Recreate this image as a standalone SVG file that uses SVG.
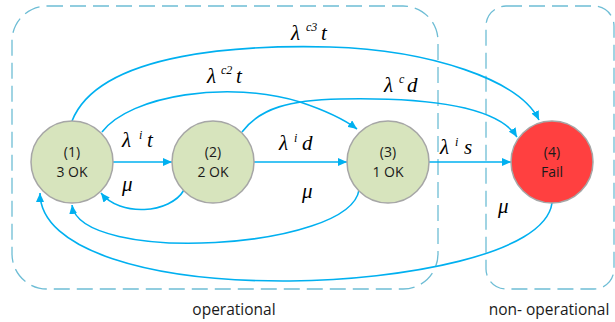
<svg xmlns="http://www.w3.org/2000/svg" width="615" height="322" viewBox="0 0 615 322">
<defs>
<marker id="arr" markerUnits="userSpaceOnUse" markerWidth="10" markerHeight="8" refX="9" refY="4" orient="auto">
<path d="M0,0 L9,4 L0,8 Z" fill="#00B0F0"/>
</marker>
<style>
.box{fill:none;stroke:#6EBDD5;stroke-width:1.3;stroke-dasharray:16 7}
.node{fill:#D7E4BD;stroke:#A6A6A6;stroke-width:1.5}
.fail{fill:#FF4040;stroke:#A6A6A6;stroke-width:1.5}
.nt{font-family:"Open Sans","Noto Sans",sans-serif;font-size:14px;fill:#1a1a1a;text-anchor:middle}
.edge{fill:none;stroke:#00B0F0;stroke-width:1.6;marker-end:url(#arr)}
.m{font-family:"Liberation Serif","Times New Roman",serif;font-style:italic;font-size:21px;fill:#000}
.s{font-family:"Liberation Serif","Times New Roman",serif;font-style:italic;font-size:12px;fill:#000}
.cap{font-family:"Open Sans","Noto Sans",sans-serif;font-size:15.5px;fill:#1a1a1a;text-anchor:middle}
</style>
</defs>
<rect width="615" height="322" fill="#fff"/>
<g id="regions">
<rect class="box" x="12" y="6" width="426" height="283" rx="35" ry="35"/>
<rect class="box" x="486" y="6" width="128" height="283" rx="20" ry="20"/>
<text class="cap" x="234" y="315">operational</text>
<text class="cap" x="549" y="315">non- operational</text>
</g>
<g id="connectors">
<path class="edge" d="M113,162 L172,162"/>
<path class="edge" d="M254,162 L347,162"/>
<path class="edge" d="M429,162 L511,162"/>
<path class="edge" d="M184,190 C170,214 120,217 101,193"/>
<path class="edge" d="M359,190 C350,250 80,265 72,205"/>
<path class="edge" d="M552,203 C545,255 400,280 290,281 C150,282 40,250 40,193"/>
<path class="edge" d="M72,121 C100,50 250,45 330,47 C430,50 520,80 539,120"/>
<path class="edge" d="M102,132 C130,95 230,80 300,102 C330,112 345,120 357,129"/>
<path class="edge" d="M242,132 C260,108 290,100 340,99 C440,97 500,110 517,137"/>
</g>
<g id="labels">
<text class="m" x="122" y="147">λ</text><text class="s" x="139" y="139">i</text><text class="m" x="147" y="147">t</text>
<text class="m" x="279" y="150">λ</text><text class="s" x="294" y="142">i</text><text class="m" x="302" y="150">d</text>
<text class="m" x="440" y="154">λ</text><text class="s" x="455" y="146">i</text><text class="m" x="464" y="154">s</text>
<text class="m" x="291" y="40">λ</text><text class="s" x="306" y="31">c3</text><text class="m" x="321" y="40">t</text>
<text class="m" x="207" y="83">λ</text><text class="s" x="221" y="74">c2</text><text class="m" x="236" y="83">t</text>
<text class="m" x="384" y="92">λ</text><text class="s" x="399" y="83">c</text><text class="m" x="407" y="92">d</text>
<text class="m" x="122" y="191">μ</text>
<text class="m" x="302" y="198">μ</text>
<text class="m" x="498" y="213">μ</text>
</g>
<g id="n1"><circle class="node" cx="72" cy="162" r="41"/><text class="nt" x="72" y="157">(1)</text><text class="nt" x="72" y="177">3 OK</text></g>
<g id="n2"><circle class="node" cx="213" cy="162" r="41"/><text class="nt" x="213" y="157">(2)</text><text class="nt" x="213" y="177">2 OK</text></g>
<g id="n3"><circle class="node" cx="388" cy="162" r="41"/><text class="nt" x="388" y="157">(3)</text><text class="nt" x="388" y="177">1 OK</text></g>
<g id="n4"><circle class="fail" cx="552" cy="162" r="41"/><text class="nt" x="552" y="157">(4)</text><text class="nt" x="552" y="177">Fail</text></g>
</svg>
